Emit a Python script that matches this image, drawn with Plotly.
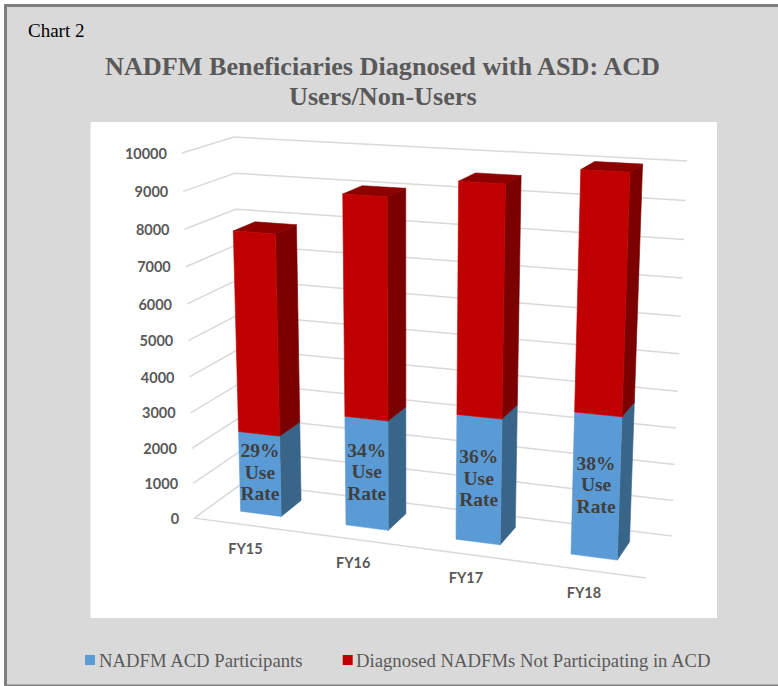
import numpy as np
import plotly.graph_objects as go

categories = ["FY15", "FY16", "FY17", "FY18"]
participants = [2300, 3060, 3440, 3830]
not_participating = [5550, 5960, 6090, 6160]
use_rates = ["29%", "34%", "36%", "38%"]
value_ticks = [0, 1000, 2000, 3000, 4000, 5000, 6000, 7000, 8000, 9000, 10000]

BLUE, BLUE_SIDE = "#5b9bd5", "#396589"
RED, RED_SIDE, RED_TOP = "#c00000", "#7b0000", "#8c0000"
GRID = "#d9d9d9"
MAX_VALUE = 10000
BAR_WIDTH = 0.39   # share of a category slot
DEPTH = (0.30, 0.74)  # front and back of a bar, 0 = front of floor, 1 = back wall


def fitCamera():
    # (across, up, depth) box corners and where they land on the page
    corners = [((0, 0, 0), (196, 518)), ((0, 1, 0), (181, 153)), ((0, 1, 0), (181, 153)),
               ((0, 0, 1), (241, 483)), ((0, 1, 1), (236, 137)),
               ((1, 0, 1), (672, 536)), ((1, 1, 1), (687, 161)),
               ((1, 0, 0), (646, 578))]
    rows, rhs = [], []
    for (u, v, w), (x, y) in corners:
        rows.append([u, v, w, 1, 0, 0, 0, 0, -x*u, -x*v, -x*w])
        rows.append([0, 0, 0, 0, u, v, w, 1, -y*u, -y*v, -y*w])
        rhs += [x, y]
    p = np.linalg.lstsq(np.array(rows, float), np.array(rhs, float), rcond=None)[0]
    return np.append(p, 1).reshape(3, 4)


camera = fitCamera()


def project(u, value, w):
    sx, sy, s = camera @ np.array([u, value/MAX_VALUE, w, 1])
    return sx/s, sy/s


def addPoly(fig, points, color, width=0.6):
    xs = [p[0] for p in points]
    ys = [p[1] for p in points]
    fig.add_trace(go.Scatter(x=xs + xs[:1], y=ys + ys[:1], mode="lines", fill="toself",
                             fillcolor=color, line=dict(color=color, width=width),
                             hoverinfo="skip", showlegend=False))


def addSegment(fig, value, start, mid, end=None):
    pts = [project(start[0], value, start[1]), project(mid[0], value, mid[1])]
    if end:
        pts.append(project(end[0], value, end[1]))
    fig.add_trace(go.Scatter(x=[p[0] for p in pts], y=[p[1] for p in pts], mode="lines",
                             line=dict(color=GRID, width=1.5), hoverinfo="skip", showlegend=False))


def addText(fig, xs, ys, text, position, font):
    fig.add_trace(go.Scatter(x=xs, y=ys, mode="text", text=text, textposition=position,
                             textfont=font, hoverinfo="skip", showlegend=False))


fig = go.Figure()

# walls
for value in value_ticks:
    addSegment(fig, value, (0, 0), (0, 1), (1, 1))
addSegment(fig, 0, (0, 0), (1, 0))

# bars
for i in range(len(categories)):
    left = (i + 0.5)/len(categories) - BAR_WIDTH/len(categories)/2
    right = left + BAR_WIDTH/len(categories)
    front, back = DEPTH
    blue_top = participants[i]
    red_top = blue_top + not_participating[i]
    addPoly(fig, [project(right, 0, front), project(right, 0, back),
                  project(right, blue_top, back), project(right, blue_top, front)], BLUE_SIDE)
    addPoly(fig, [project(right, blue_top, front), project(right, blue_top, back),
                  project(right, red_top, back), project(right, red_top, front)], RED_SIDE)
    addPoly(fig, [project(left, red_top, front), project(right, red_top, front),
                  project(right, red_top, back), project(left, red_top, back)], RED_TOP)
    addPoly(fig, [project(left, 0, front), project(right, 0, front),
                  project(right, blue_top, front), project(left, blue_top, front)], BLUE)
    addPoly(fig, [project(left, blue_top, front), project(right, blue_top, front),
                  project(right, red_top, front), project(left, red_top, front)], RED)

# axis text
tick_pos = [project(0, v, 0) for v in value_ticks]
addText(fig, [p[0] - 15 for p in tick_pos], [p[1] + 2 for p in tick_pos], [str(v) for v in value_ticks],
        "middle left", dict(family="Lato", size=14.5, color="#595959", weight=700))
centers = [(i + 0.5)/len(categories) for i in range(len(categories))]
cat_pos = [project(u, 0, 0) for u in centers]
addText(fig, [p[0] - 1 for p in cat_pos], [p[1] + 25 for p in cat_pos], categories,
        "middle center", dict(family="Lato", size=14.5, color="#595959", weight=700))

# use rate labels, three lines on each blue face
rate_font = dict(family="Liberation Serif", size=19.5, color="#404040", weight=700)
rate_pos = [project(u, p/2, DEPTH[0]) for u, p in zip(centers, participants)]
for line, dy in zip([use_rates, ["Use"]*4, ["Rate"]*4], [-21.5, 0, 21.5]):
    addText(fig, [p[0] for p in rate_pos], [p[1] + dy for p in rate_pos], line, "middle center", rate_font)

# legend keys
fig.add_trace(go.Scatter(x=[90, 347.7], y=[660, 660], mode="markers",
                         marker=dict(symbol="square", size=10, color=[BLUE, RED]),
                         hoverinfo="skip", showlegend=False))

serif = "Liberation Serif"
annotations = [
    dict(x=26, y=30, text="Chart 2", xanchor="left", font=dict(family=serif, size=19, color="black")),
    dict(x=382.7, y=66, text="<b>NADFM Beneficiaries Diagnosed with ASD: ACD</b>",
         font=dict(family=serif, size=26.2, color="#595959")),
    dict(x=382.7, y=96, text="<b>Users/Non-Users</b>", font=dict(family=serif, size=26.2, color="#595959")),
    dict(x=97, y=660.5, text="NADFM ACD Participants", xanchor="left", font=dict(family=serif, size=18.7, color="#595959")),
    dict(x=354, y=660.5, text="Diagnosed NADFMs Not Participating in ACD", xanchor="left",
         font=dict(family=serif, size=18.7, color="#595959")),
]
for a in annotations:
    a.update(xref="x", yref="y", showarrow=False, yanchor="middle")

shapes = [
    dict(type="rect", x0=4, x1=778, y0=4, y1=686, fillcolor="#7f7f7f", line_width=0, layer="below"),
    dict(type="rect", x0=7, x1=778, y0=7, y1=684.5, fillcolor="#d9d9d9", line_width=0, layer="below"),
    dict(type="rect", x0=90.5, x1=717, y0=122, y1=618, fillcolor="white", line_width=0, layer="below"),
]
for s in shapes:
    s.update(xref="x", yref="y")

fig.update_layout(width=778, height=686, margin=dict(l=0, r=0, t=0, b=0), paper_bgcolor="white",
                  plot_bgcolor="white", showlegend=False, shapes=shapes, annotations=annotations,
                  xaxis=dict(range=[0, 778], visible=False, fixedrange=True),
                  yaxis=dict(range=[686, 0], visible=False, fixedrange=True))
fig.write_html("out.html", config=dict(displayModeBar=False), post_script="document.body.style.margin='0';")
